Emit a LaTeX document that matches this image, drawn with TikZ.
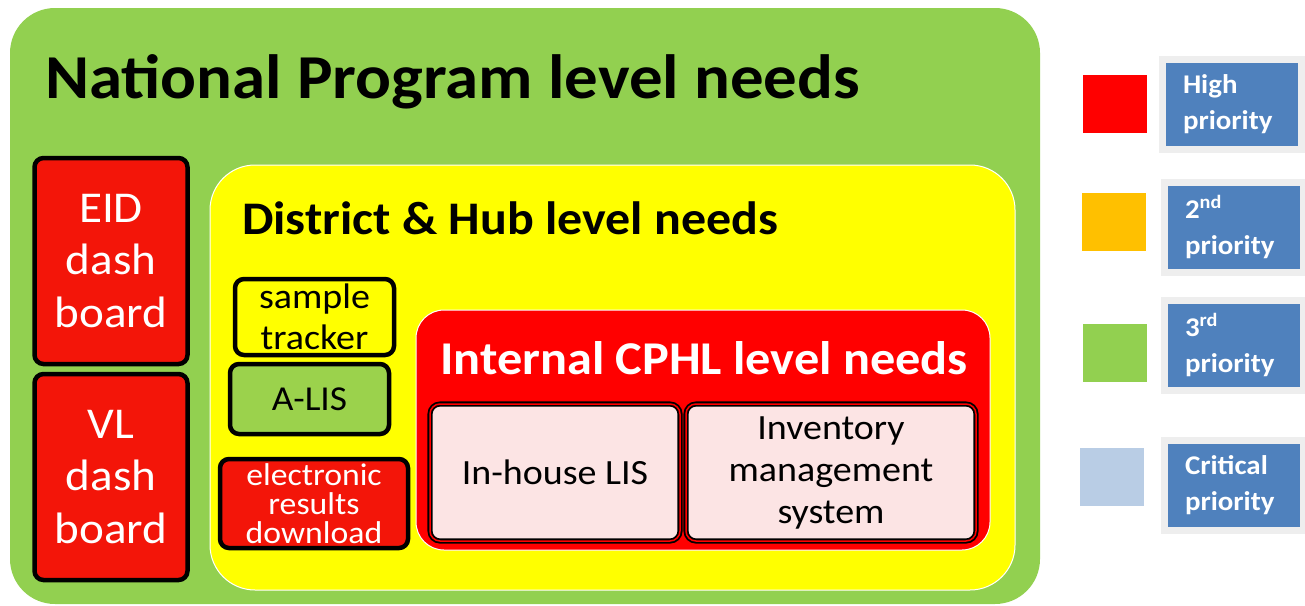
\documentclass[tikz,border=0pt]{standalone}
\usepackage{fontspec}
\setmainfont{Carlito}[FakeStretch=1.07]
\usepackage{xcolor}
\definecolor{natgreen}{HTML}{92D050}
\definecolor{hubyellow}{HTML}{FFFF00}
\definecolor{boxred}{HTML}{F31509}
\definecolor{cphlred}{HTML}{FF0000}
\definecolor{alisgreen}{HTML}{9BD24C}
\definecolor{lispink}{HTML}{FCE4E4}
\definecolor{keyorange}{HTML}{FFC000}
\definecolor{keyblue}{HTML}{B9CDE5}
\definecolor{tagblue}{HTML}{4F81BD}
\definecolor{taggray}{HTML}{EEEEEE}

\begin{document}
\begin{tikzpicture}[x=1pt, y=-1pt,
    every node/.style={inner sep=0pt, align=center},
    level/.style={rounded corners=#1, draw=white, line width=1pt},
    need/.style={rounded corners=9pt, draw=black, line width=4.5pt},
    sys/.style={rounded corners=10pt, draw=black, double=cphlred, double distance=1.5pt,
        line width=1.8pt, fill=lispink, font=\fontsize{35.5}{42}\selectfont},
    key/.style={minimum width=64pt, minimum height=58pt},
    tag/.style={fill=tagblue, draw=taggray, line width=7pt, minimum width=139pt,
        minimum height=90pt, text=white, font=\bfseries\fontsize{27}{36}\selectfont,
        text width=98pt, align=left}]
    \useasboundingbox (0,0) rectangle (1305,605);

    % Levels
    \fill[natgreen, rounded corners=45pt] (10,8) rectangle (1040,604);
    \node[anchor=base west, font=\bfseries\fontsize{62.5}{70}\selectfont] (national) at (45,98) {National Program level needs};
    \draw[level=45pt, fill=hubyellow] (210,165) rectangle (1015,590);
    \node[anchor=base west, font=\bfseries\fontsize{46.7}{52}\selectfont] (district) at (242,234) {District \& Hub level needs};
    \draw[level=28pt, fill=cphlred] (416,310) rectangle (990,550);
    \node[anchor=base west, text=white, font=\bfseries\fontsize{47}{52}\selectfont] (internal) at (440,374) {Internal CPHL level needs};

    % National needs
    \node[need, fill=boxred, text=white, minimum width=153pt, minimum height=206pt,
        font=\fontsize{44}{52.5}\selectfont] (eid) at (111,261) {EID\\dash\\board};
    \node[need, fill=boxred, text=white, minimum width=153pt, minimum height=206pt,
        font=\fontsize{44}{52.5}\selectfont] (vl) at (111,477) {VL\\dash\\board};

    % District & Hub needs
    \node[need, fill=hubyellow, minimum width=159pt, minimum height=76pt,
        font=\fontsize{35.5}{41}\selectfont] (tracker) at (314.5,317) {sample\\tracker};
    \node[need, fill=alisgreen, minimum width=159pt, minimum height=70pt,
        font=\fontsize{35}{41}\selectfont] (alis) at (309.5,399) {A-LIS};
    \node[need, fill=boxred, text=white, minimum width=188pt, minimum height=89pt,
        font=\fontsize{31.5}{29}\selectfont] (download) at (314,503.5) {electronic\\results\\download};

    % Internal CPHL needs
    \node[sys, minimum width=250pt, minimum height=137pt] (inhouse) at (555,472.5) {In-house LIS};
    \node[sys, minimum width=290pt, minimum height=137pt] (inventory) at (831,472.5) {Inventory\\management\\system};

    % Legend
    \node[key, fill=cphlred] (high) at (1115,104) {};
    \node[key, fill=keyorange] (second) at (1114,222) {};
    \node[key, fill=natgreen] (third) at (1115,353) {};
    \node[key, fill=keyblue] (critical) at (1112,477) {};
    \node[tag] (hightag) at (1232,104) {High\\priority};
    \node[tag] (secondtag) at (1234,227) {2\textsuperscript{nd}\\priority};
    \node[tag] (thirdtag) at (1234,345) {3\textsuperscript{rd}\\priority};
    \node[tag] (criticaltag) at (1234,485) {Critical\\priority};
\end{tikzpicture}
\end{document}
